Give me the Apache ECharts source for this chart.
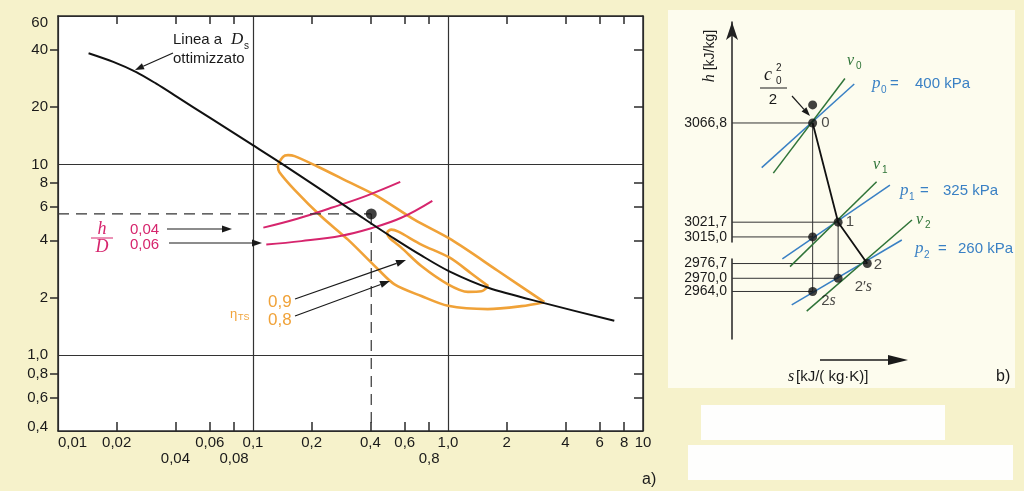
<!DOCTYPE html>
<html><head><meta charset="utf-8">
<script src="https://cdn.jsdelivr.net/npm/echarts@6/dist/echarts.min.js"></script>
<style>html,body{margin:0;padding:0;background:#f6f2cb;}#c{width:1024px;height:491px;}</style>
</head><body><div id="c"></div>
<script>
// ================= Panel a) (log-log) =================
const xTickLabels  = [0.01, 0.02, 0.06, 0.1, 0.2, 0.4, 0.6, 1, 2, 4, 6, 8, 10];
const xTickLabels2 = [0.04, 0.08, 0.8];
const xMinorTicks  = [0.02, 0.04, 0.06, 0.08, 0.2, 0.4, 0.6, 0.8, 2, 4, 6, 8];
const yTickLabels  = [0.4, 0.6, 0.8, 1, 2, 4, 6, 8, 10, 20, 40, 60];
const yMinorTicks  = [0.6, 0.8, 2, 4, 6, 8, 20, 40];

// optimised-Ds line
const optX = [0.01435, 0.01921, 0.02521, 0.03192, 0.04043, 0.06111, 0.09801, 0.1397, 0.2241, 0.3592, 0.5304, 0.7297, 1.0155, 1.609, 3.117, 7.125];
const optY = [38.3, 34.5, 30.5, 26.5, 22.74, 17.36, 12.76, 10.12, 7.35, 5.31, 4.08, 3.33, 2.749, 2.255, 1.873, 1.514];
// efficiency contours eta_TS
const eta08X = [3.12, 2.38, 1.60, 1.0, 0.730, 0.532, 0.4375, 0.307, 0.224, 0.1634, 0.1364, 0.1343, 0.1425, 0.1512, 0.1634, 0.2154, 0.307, 0.4375, 0.672, 1.04, 1.80, 3.12];
const eta08Y = [1.895, 1.806, 1.742, 1.813, 2.04, 2.35, 2.82, 4.03, 5.33, 7.35, 9.12, 9.72, 10.95, 11.18, 11.05, 9.72, 8.12, 6.78, 5.13, 4.03, 2.77, 1.895];
const eta09X = [1.609, 1.482, 1.266, 1.0, 0.730, 0.576, 0.500, 0.488, 0.512, 0.556, 0.730, 1.016, 1.317, 1.609];
const eta09Y = [2.30, 2.16, 2.145, 2.35, 2.93, 3.66, 4.13, 4.39, 4.55, 4.44, 3.80, 3.25, 2.68, 2.30];
// h/D lines
const hD004X = [0.113, 0.1687, 0.252, 0.381, 0.569];
const hD004Y = [4.66, 5.19, 5.92, 6.84, 8.09];
const hD006X = [0.117, 0.177, 0.284, 0.404, 0.576, 0.831];
const hD006Y = [3.80, 3.96, 4.23, 4.63, 5.25, 6.44];
// design point
const designX = 0.404, designY = 5.5;

// ================= Panel b) (h-s schematic) =================
const stateLabel = ['0', '1', '2', '', '2s', "2's"];
const stateS = [2.85, 3.75, 4.78, 2.85, 2.85, 3.75];
const stateH = [3066.8, 3021.7, 2976.7, 3015.0, 2964.0, 2970.0];
const hLabelsA = [3066.8, 3021.7, 2976.7, 2964.0];
const hLabelsB = [3015.0, 2970.0];
const stagnationH = 3075;            // h0 + c0^2/2
const isobarKPa = [400, 325, 260];
const isobarS = [[1.05, 4.32], [1.78, 5.58], [2.11, 6.0]];
const isobarH = [[3046.5, 3084.5], [2978.8, 3038.6], [2957.9, 3013.6]];
const isochoreS = [[1.46, 3.99], [2.05, 5.11], [2.64, 6.36]];
const isochoreH = [[3044, 3087], [2975.3, 3040.1], [2955.1, 3022.7]];

const zip = (a, b) => a.map((v, i) => [v, b[i]]);
const F = '"Liberation Sans", Arial, sans-serif';
const FS = '"Liberation Serif", "DejaVu Serif", serif';
const PINK = '#d6256d', ORANGE = '#f0a238', BLUE = '#3a80c4', GREEN = '#2f7438', INK = '#1a1a1a';
function num(v) { return +(+v).toPrecision(6); }
function fmtComma(v) { v = num(v); return v === 1 ? '1,0' : String(v).replace('.', ','); }
function fmtY(v) { const s = fmtComma(v), n = num(v); return n === 0.4 ? '{lo|' + s + '}' : n === 60 ? '{hi|' + s + '}' : s; }
function fmtH(v) { return (+v).toFixed(1).replace('.', ','); }

const axisLine = { show: true, lineStyle: { color: '#2a2a2a', width: 1.5 } };
const lblStyle = { color: INK, fontSize: 15, fontFamily: F };
const logX = e => Object.assign({ type: 'log', logBase: 10, min: 0.01, max: 10, gridIndex: 0 }, e);
const logY = e => Object.assign({ type: 'log', logBase: 10, min: 0.4, max: 60, gridIndex: 0 }, e);
const hAxis = e => Object.assign({ type: 'value', gridIndex: 1, position: 'left', min: 2942.4, max: 3112.7,
  breaks: [{ start: 2979, end: 3013, gap: 7.8 }], breakArea: { show: false, itemStyle: { opacity: 0 } },
  axisTick: { show: false }, splitLine: { show: false } }, e);

const lineA = (data, color, width, z, extra) => Object.assign({
  type: 'line', xAxisIndex: 0, yAxisIndex: 0, data, symbol: 'none', showSymbol: false,
  lineStyle: { color, width }, z, silent: true, animation: false }, extra || {});
const lineB = (data, color, width, z) => ({
  type: 'line', xAxisIndex: 4, yAxisIndex: 3, data, symbol: 'none', showSymbol: false,
  lineStyle: { color, width }, z, silent: true, animation: false });

const series = [
  lineA(zip(eta08X, eta08Y), ORANGE, 2.6, 3, { smooth: 0.3 }),
  lineA(zip(eta09X, eta09Y), ORANGE, 2.6, 3, { smooth: 0.3 }),
  lineA(zip(hD004X, hD004Y), PINK, 2, 4, { smooth: 0.4 }),
  lineA(zip(hD006X, hD006Y), PINK, 2, 4, { smooth: 0.4 }),
  lineA(zip(optX, optY), '#111', 2, 5, { smooth: 0.3 }),
  lineA([[0.01, designY], [designX, designY]], '#333', 1.2, 4, { lineStyle: { color: '#333', width: 1.2, type: [11, 7] } }),
  lineA([[designX, designY], [designX, 0.4]], '#333', 1.2, 4, { lineStyle: { color: '#333', width: 1.2, type: [11, 7] } }),
  { type: 'scatter', xAxisIndex: 0, yAxisIndex: 0, data: [[designX, designY]], symbolSize: 11,
    itemStyle: { color: '#111' }, z: 6, silent: true, animation: false }
];

// panel b lines
stateS.forEach((s, i) => series.push(lineB([[0, stateH[i]], [s, stateH[i]]], '#333', 1, 3)));
series.push(lineB([[stateS[0], stateH[0]], [stateS[4], stateH[4]]], '#333', 1, 3));
series.push(lineB([[stateS[1], stateH[1]], [stateS[5], stateH[5]]], '#333', 1, 3));
isobarS.forEach((s, i) => series.push(lineB(zip(s, isobarH[i]), BLUE, 1.5, 4)));
isochoreS.forEach((s, i) => series.push(lineB(zip(s, isochoreH[i]), GREEN, 1.5, 4)));
series.push(lineB([0, 1, 2].map(i => [stateS[i], stateH[i]]), '#111', 1.8, 5));
const labelOffsets = { '0': [0, 0], '1': [-1, 0], '2': [-2, 1], '2s': [0, 9], "2's": [8, 9] };
series.push({
  type: 'scatter', xAxisIndex: 4, yAxisIndex: 3, symbolSize: 9, z: 6, silent: true, animation: false,
  itemStyle: { color: '#111' },
  data: stateS.map((s, i) => ({
    value: [s, stateH[i]],
    label: { show: !!stateLabel[i], position: 'right', distance: 4, offset: labelOffsets[stateLabel[i]] || [0, 0],
      formatter: stateLabel[i].replace(/s$/, '{i|s}').replace("'", '′'),
      color: INK, fontSize: 15, fontFamily: F,
      rich: { i: { fontFamily: FS, fontStyle: 'italic', fontSize: 16, color: INK } } }
  })).concat([{ value: [stateS[0], stagnationH] }])
});
// keep the second h-label axis bound to a (empty) series
series.push({ type: 'line', xAxisIndex: 4, yAxisIndex: 4, data: [], silent: true });

// ---------- annotations ----------
function T(x, y, text, font, fill, align, extra) {
  return Object.assign({ type: 'text', x, y, z: 50, silent: true,
    style: { text, font, fill, textAlign: align || 'left', align: align || 'left', textVerticalAlign: 'middle', verticalAlign: 'middle' } }, extra || {});
}
function arrow(x1, y1, x2, y2, color, w, hl, hwr) {
  hl = hl || 9; const hw = hl * (hwr || 0.36), a = Math.atan2(y2 - y1, x2 - x1);
  const bx = x2 - hl * Math.cos(a), by = y2 - hl * Math.sin(a), px = -Math.sin(a) * hw, py = Math.cos(a) * hw;
  return [
    { type: 'line', z: 50, silent: true, shape: { x1, y1, x2: bx, y2: by }, style: { stroke: color, lineWidth: w } },
    { type: 'polygon', z: 50, silent: true, shape: { points: [[x2, y2], [bx + px, by + py], [bx - px, by - py]] }, style: { fill: color } }
  ];
}
const g = [];
// backgrounds of panel b and the masked boxes
g.push({ type: 'rect', z: -10, silent: true, shape: { x: 668, y: 10, width: 347, height: 378 }, style: { fill: '#fdfcee' } });
g.push({ type: 'rect', z: -10, silent: true, shape: { x: 701, y: 405, width: 244, height: 35 }, style: { fill: '#fefefd' } });
g.push({ type: 'rect', z: -10, silent: true, shape: { x: 688, y: 445, width: 325, height: 35 }, style: { fill: '#fefefd' } });
// panel a texts
g.push(T(173, 40, 'Linea a', '15px ' + F, INK));
g.push(T(231, 40, 'D', 'italic 17px ' + FS, INK));
g.push(T(244, 46, 's', '10px ' + F, INK));
g.push(T(173, 59, 'ottimizzato', '15px ' + F, INK));
g.push(...arrow(173, 53, 135, 70, INK, 1.2, 9));
g.push(T(102, 229, 'h', 'italic 18px ' + FS, PINK, 'center'));
g.push({ type: 'line', z: 50, silent: true, shape: { x1: 91, y1: 238, x2: 113, y2: 238 }, style: { stroke: PINK, lineWidth: 1 } });
g.push(T(102, 247, 'D', 'italic 18px ' + FS, PINK, 'center'));
g.push(T(130, 230, '0,04', '15px ' + F, PINK));
g.push(T(130, 245, '0,06', '15px ' + F, PINK));
g.push(...arrow(167, 229, 232, 229, INK, 1.2, 10));
g.push(...arrow(169, 243, 262, 243, INK, 1.2, 10));
g.push(T(230, 314, 'η', '13px ' + F, ORANGE));
g.push(T(238, 318, 'TS', '9px ' + F, ORANGE));
g.push(T(268, 302, '0,9', '17px ' + F, ORANGE));
g.push(T(268, 320, '0,8', '17px ' + F, ORANGE));
g.push(...arrow(295, 299, 406, 260, INK, 1.2, 10));
g.push(...arrow(295, 316, 390, 281, INK, 1.2, 10));
g.push(T(642, 480, 'a)', '16px ' + F, INK));
// panel b texts
g.push({ type: 'text', x: 710, y: 56, rotation: Math.PI / 2, z: 50, silent: true,
  style: { text: '{i|h} [kJ/kg]', font: '14px ' + F, fill: INK, textAlign: 'center', align: 'center', textVerticalAlign: 'middle', verticalAlign: 'middle',
    rich: { i: { fontFamily: FS, fontStyle: 'italic', fontSize: 16, fill: INK, color: INK } } } });
g.push(T(768, 75, 'c', 'italic 18px ' + FS, INK, 'center'));
g.push(T(776, 68, '2', '10px ' + F, INK));
g.push(T(776, 81, '0', '10px ' + F, INK));
g.push({ type: 'line', z: 50, silent: true, shape: { x1: 760, y1: 88, x2: 787, y2: 88 }, style: { stroke: INK, lineWidth: 1 } });
g.push(T(773, 100, '2', '15px ' + F, INK, 'center'));
g.push(...arrow(792, 96, 810, 116, INK, 1.2, 9));
const vLbl = [[847, 61], [873, 165], [916, 220]];
const pLbl = [[872, 84, 890, 915], [900, 191, 920, 943], [915, 249, 938, 958]];
vLbl.forEach((p, i) => { g.push(T(p[0], p[1], 'v', 'italic 16px ' + FS, GREEN)); g.push(T(p[0] + 9, p[1] + 5, String(i), '10px ' + F, GREEN)); });
pLbl.forEach((p, i) => {
  g.push(T(p[0], p[1], 'p', 'italic 17px ' + FS, BLUE));
  g.push(T(p[0] + 9, p[1] + 6, String(i), '10px ' + F, BLUE));
  g.push(T(p[2], p[1], '=', '15px ' + F, BLUE));
  g.push(T(p[3], p[1], isobarKPa[i] + ' kPa', '15px ' + F, BLUE));
});
g.push(...arrow(820, 360, 908, 360, INK, 1.3, 20, 0.25));
g.push(T(788, 377, 's', 'italic 16px ' + FS, INK));
g.push(T(796, 377, '[kJ/( kg·K)]', '15px ' + F, INK));
g.push(T(996, 377, 'b)', '16px ' + F, INK));

const hLbl = { show: true, formatter: fmtH, margin: 5, hideOverlap: false, color: INK, fontSize: 14, fontFamily: F };
const option = {
  backgroundColor: '#f6f2cb',
  animation: false,
  grid: [
    { left: 58, top: 16, width: 585, height: 415, show: true, backgroundColor: '#ffffff', borderWidth: 0 },
    { left: 732, top: 22, width: 283, height: 317, show: false }
  ],
  xAxis: [
    logX({ position: 'bottom', axisLine, axisTick: { show: false }, axisLabel: { show: false },
      splitLine: { show: true, lineStyle: { color: '#333', width: 1.2 } } }),
    logX({ position: 'bottom', axisLine: { show: false },
      axisTick: { show: true, inside: true, length: 9, customValues: xMinorTicks, lineStyle: { color: '#2a2a2a', width: 1.5 } },
      axisLabel: Object.assign({ show: true, customValues: xTickLabels, formatter: fmtComma, margin: 4, alignMinLabel: 'left', hideOverlap: false }, lblStyle),
      splitLine: { show: false } }),
    logX({ position: 'bottom', offset: 16, axisLine: { show: false }, axisTick: { show: false },
      axisLabel: Object.assign({ show: true, customValues: xTickLabels2, formatter: fmtComma, margin: 4, hideOverlap: false }, lblStyle),
      splitLine: { show: false } }),
    logX({ position: 'top', axisLine,
      axisTick: { show: true, inside: true, length: 8, customValues: xMinorTicks, lineStyle: { color: '#2a2a2a', width: 1.5 } },
      axisLabel: { show: false }, splitLine: { show: false } }),
    { type: 'value', gridIndex: 1, min: 0, max: 10, show: false }
  ],
  yAxis: [
    logY({ position: 'left', axisLine, axisTick: { show: false }, axisLabel: { show: false },
      splitLine: { show: true, lineStyle: { color: '#333', width: 1.2 } } }),
    logY({ position: 'left', axisLine: { show: false },
      axisTick: { show: true, inside: false, length: 8, customValues: yMinorTicks, lineStyle: { color: '#2a2a2a', width: 1.5 } },
      axisLabel: Object.assign({ show: true, customValues: yTickLabels, formatter: fmtY, margin: 10, hideOverlap: false,
        rich: { lo: { fontSize: 15, fontFamily: F, color: INK, padding: [0, 0, 9, 0] }, hi: { fontSize: 15, fontFamily: F, color: INK, padding: [13, 0, 0, 0] } } }, lblStyle),
      splitLine: { show: false } }),
    logY({ position: 'right', axisLine,
      axisTick: { show: true, inside: true, length: 9, customValues: yMinorTicks, lineStyle: { color: '#2a2a2a', width: 1.5 } },
      axisLabel: { show: false }, splitLine: { show: false } }),
    hAxis({ axisLine: { show: true, lineStyle: { color: '#222', width: 1.5 }, symbol: ['none', 'arrow'], symbolSize: [9, 18] },
      axisLabel: Object.assign({ customValues: hLabelsA }, hLbl) }),
    hAxis({ axisLine: { show: false }, axisLabel: Object.assign({ customValues: hLabelsB }, hLbl) })
  ],
  series,
  graphic: { elements: g }
};
const chart = echarts.init(document.getElementById('c'));
chart.setOption(option);
</script></body></html>
